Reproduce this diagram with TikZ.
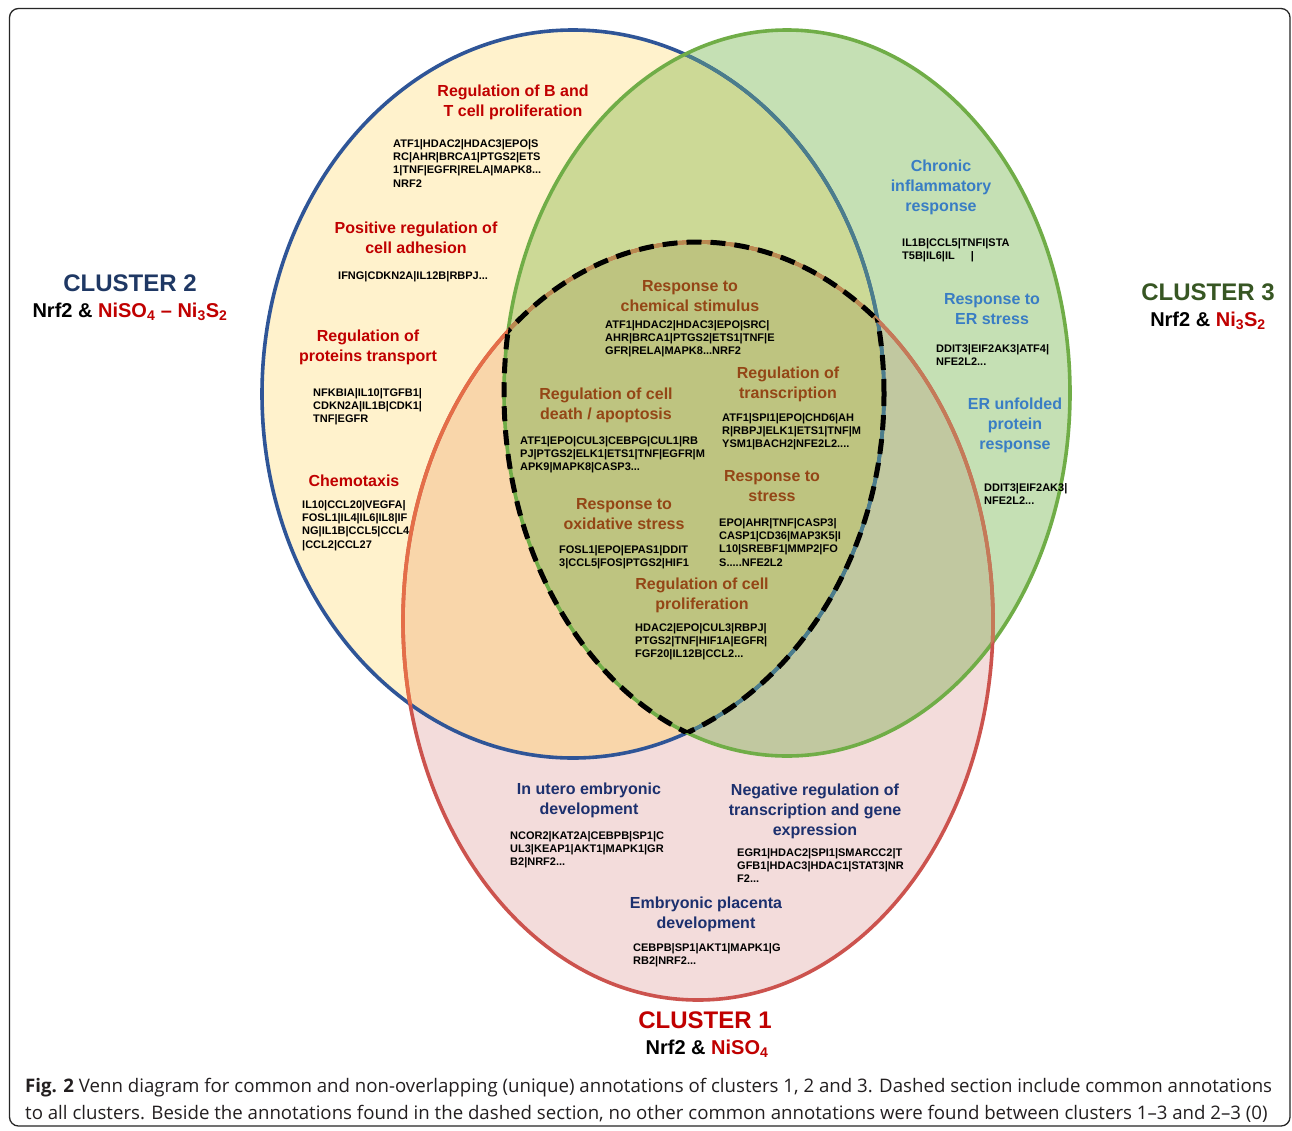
\documentclass[tikz,border=0pt]{standalone}
\usepackage{fontspec}
\setmainfont{Liberation Sans}
\newfontfamily\capfont{Open Sans}
\definecolor{c2fill}{RGB}{255,242,204}
\definecolor{c3fill}{RGB}{197,224,180}
\definecolor{c1fill}{RGB}{243,220,219}
\definecolor{c12fill}{RGB}{249,214,170}
\definecolor{c23fill}{RGB}{204,217,150}
\definecolor{c13fill}{RGB}{193,200,160}
\definecolor{c123fill}{RGB}{190,196,128}
\definecolor{bluestroke}{RGB}{47,85,151}
\definecolor{tealstroke}{RGB}{75,125,140}
\definecolor{greenstroke}{RGB}{112,173,71}
\definecolor{redstroke}{RGB}{204,83,78}
\definecolor{redinblue}{RGB}{228,110,72}
\definecolor{redingreen}{RGB}{196,122,88}
\definecolor{redintri}{RGB}{184,138,80}
\definecolor{darkred}{RGB}{192,0,0}
\definecolor{brownt}{RGB}{148,70,22}
\definecolor{bluet}{RGB}{57,125,196}
\definecolor{navyt}{RGB}{28,48,110}
\definecolor{clustertwo}{RGB}{31,56,100}
\definecolor{clusterthree}{RGB}{55,86,35}
\definecolor{captxt}{RGB}{35,31,32}
\def\Eblue{(573,394) ellipse [x radius=311pt, y radius=364pt]}
\def\Egreen{(787,393) ellipse [x radius=283pt, y radius=363pt]}
\def\Ered{(698,621) ellipse [x radius=295pt, y radius=379pt]}
\tikzset{
  ttl/.style={font={\fontsize{16}{20}\selectfont\bfseries}, align=center, anchor=north, inner sep=0pt},
  genes/.style={font={\fontsize{11}{13.4}\selectfont\bfseries}, align=left, anchor=north west, inner sep=0pt, text=black},
  clus/.style={font={\fontsize{24}{28}\selectfont\bfseries}, anchor=north, inner sep=0pt},
  clsub/.style={font={\fontsize{20}{24}\selectfont\bfseries}, anchor=north, inner sep=0pt, text=black},
  captionline/.style={font={\capfont\fontsize{18.65}{22}\selectfont}, anchor=base west, inner sep=0pt, text=captxt},
  ring/.style={line width=3.6pt},
  dashline/.style={line width=5pt, dash pattern=on 15pt off 9pt, draw=black},
}
\begin{document}
\begin{tikzpicture}[x=1pt,y=-1pt]
\useasboundingbox (0,0) rectangle (1292,1130);
\fill[white] (0,0) rectangle (1292,1130);
\draw[line width=1.3pt, rounded corners=9pt, draw=black!85] (9.5,8.5) rectangle (1290,1126);

% region fills
\fill[c2fill] \Eblue;
\fill[c3fill] \Egreen;
\fill[c1fill] \Ered;
\begin{scope}
  \clip \Eblue;
  \fill[c12fill] \Ered;
  \fill[c23fill] \Egreen;
\end{scope}
\begin{scope}
  \clip \Egreen;
  \fill[c13fill] \Ered;
\end{scope}
\begin{scope}
  \clip \Eblue;
  \clip \Egreen;
  \fill[c123fill] \Ered;
\end{scope}

% outlines
\draw[ring, bluestroke] \Eblue;
\begin{scope}
  \clip \Egreen;
  \draw[ring, tealstroke] \Eblue;
\end{scope}
\draw[ring, greenstroke] \Egreen;
\draw[ring, redstroke] \Ered;
\begin{scope}
  \clip \Eblue;
  \draw[ring, redinblue] \Ered;
\end{scope}
\begin{scope}
  \clip \Egreen;
  \draw[ring, redingreen] \Ered;
\end{scope}
\begin{scope}
  \clip \Eblue;
  \clip \Egreen;
  \draw[ring, redintri] \Ered;
\end{scope}

% dashed triple intersection
\begin{scope}
  \clip \Eblue;
  \clip \Egreen;
  \draw[dashline] \Ered;
\end{scope}
\begin{scope}
  \clip \Ered;
  \clip \Egreen;
  \draw[dashline] \Eblue;
\end{scope}
\begin{scope}
  \clip \Ered;
  \clip \Eblue;
  \draw[dashline] \Egreen;
\end{scope}

% cluster 2 annotations
\node[ttl, text=darkred] (t1) at (513,85) {Regulation of B and\\T cell proliferation};
\node[genes] (g1) at (393,139) {ATF1|HDAC2|HDAC3|EPO|S\\RC|AHR|BRCA1|PTGS2|ETS\\1|TNF|EGFR|RELA|MAPK8...\\NRF2};
\node[ttl, text=darkred] (t2) at (416,222) {Positive regulation of\\cell adhesion};
\node[genes] (g2) at (338,271) {IFNG|CDKN2A|IL12B|RBPJ...};
\node[ttl, text=darkred] (t3) at (368,330) {Regulation of\\proteins transport};
\node[genes] (g3) at (313,388) {NFKBIA|IL10|TGFB1|\\CDKN2A|IL1B|CDK1|\\TNF|EGFR};
\node[ttl, text=darkred] (t4) at (354,475) {Chemotaxis};
\node[genes] (g4) at (302,500) {IL10|CCL20|VEGFA|\\FOSL1|IL4|IL6|IL8|IF\\NG|IL1B|CCL5|CCL4\\|CCL2|CCL27};

% common annotations
\node[ttl, text=brownt] (t5) at (690,280) {Response to\\chemical stimulus};
\node[genes] (g5) at (605,320) {ATF1|HDAC2|HDAC3|EPO|SRC|\\AHR|BRCA1|PTGS2|ETS1|TNF|E\\GFR|RELA|MAPK8...NRF2};
\node[ttl, text=brownt] (t6) at (606,388) {Regulation of cell\\death / apoptosis};
\node[genes] (g6) at (520,436) {ATF1|EPO|CUL3|CEBPG|CUL1|RB\\PJ|PTGS2|ELK1|ETS1|TNF|EGFR|M\\APK9|MAPK8|CASP3...};
\node[ttl, text=brownt] (t7) at (788,367) {Regulation of\\transcription};
\node[genes] (g7) at (722,413) {ATF1|SPI1|EPO|CHD6|AH\\R|RBPJ|ELK1|ETS1|TNF|M\\YSM1|BACH2|NFE2L2....};
\node[ttl, text=brownt] (t8) at (772,470) {Response to\\stress};
\node[genes] (g8) at (719,518) {EPO|AHR|TNF|CASP3|\\CASP1|CD36|MAP3K5|I\\L10|SREBF1|MMP2|FO\\S.....NFE2L2};
\node[ttl, text=brownt] (t9) at (624,498) {Response to\\oxidative stress};
\node[genes] (g9) at (559,545) {FOSL1|EPO|EPAS1|DDIT\\3|CCL5|FOS|PTGS2|HIF1};
\node[ttl, text=brownt] (t10) at (702,578) {Regulation of cell\\proliferation};
\node[genes] (g10) at (635,623) {HDAC2|EPO|CUL3|RBPJ|\\PTGS2|TNF|HIF1A|EGFR|\\FGF20|IL12B|CCL2...};

% cluster 3 annotations
\node[ttl, text=bluet] (t11) at (941,160) {Chronic\\inflammatory\\response};
\node[genes] (g11) at (902,238) {IL1B|CCL5|TNFI|STA\\T5B|IL6|IL\hspace{16pt}|};
\node[ttl, text=bluet] (t12) at (992,293) {Response to\\ER stress};
\node[genes] (g12) at (936,344) {DDIT3|EIF2AK3|ATF4|\\NFE2L2...};
\node[ttl, text=bluet] (t13) at (1015,398) {ER unfolded\\protein\\response};
\node[genes] (g13) at (984,483) {DDIT3|EIF2AK3|\\NFE2L2...};

% cluster 1 annotations
\node[ttl, text=navyt] (t14) at (589,783) {In utero embryonic\\development};
\node[genes] (g14) at (510,831) {NCOR2|KAT2A|CEBPB|SP1|C\\UL3|KEAP1|AKT1|MAPK1|GR\\B2|NRF2...};
\node[ttl, text=navyt] (t15) at (815,784) {Negative regulation of\\transcription and gene\\expression};
\node[genes] (g15) at (737,848) {EGR1|HDAC2|SPI1|SMARCC2|T\\GFB1|HDAC3|HDAC1|STAT3|NR\\F2...};
\node[ttl, text=navyt] (t16) at (706,897) {Embryonic placenta\\development};
\node[genes] (g16) at (633,943) {CEBPB|SP1|AKT1|MAPK1|G\\RB2|NRF2...};

% cluster labels
\node[clus, text=clustertwo] (c2) at (130,275) {CLUSTER 2};
\node[clsub] (c2s) at (130,303) {Nrf2 \& \textcolor{darkred}{NiSO\textsubscript{4} – Ni\textsubscript{3}S\textsubscript{2}}};
\node[clus, text=clusterthree] (c3) at (1208,284) {CLUSTER 3};
\node[clsub] (c3s) at (1208,312) {Nrf2 \& \textcolor{darkred}{Ni\textsubscript{3}S\textsubscript{2}}};
\node[clus, text=darkred] (c1) at (705,1012) {CLUSTER 1};
\node[clsub] (c1s) at (707,1040) {Nrf2 \& \textcolor{darkred}{NiSO\textsubscript{4}}};

% caption
\node[captionline] (cap1) at (25,1092) {{\bfseries Fig. 2} Venn diagram for common and non-overlapping (unique) annotations of clusters 1, 2 and 3. Dashed section include common annotations};
\node[captionline] (cap2) at (25,1119) {to all clusters. Beside the annotations found in the dashed section, no other common annotations were found between clusters 1–3 and 2–3 (0)};
\end{tikzpicture}
\end{document}
